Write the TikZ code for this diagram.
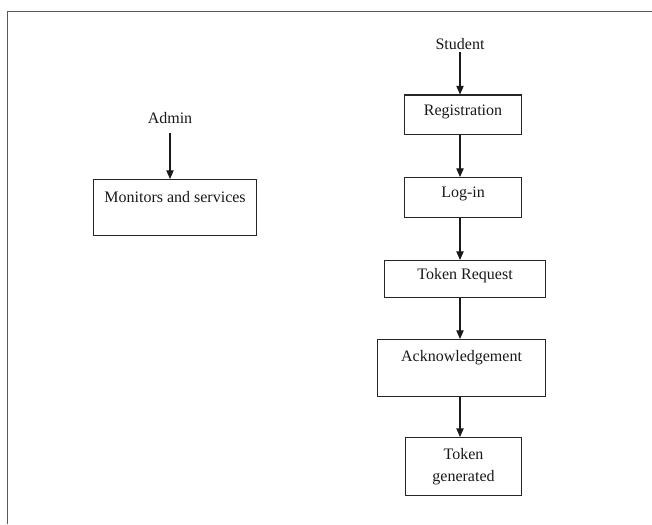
\documentclass[tikz,border=0pt]{standalone}
\usepackage{fontspec}
\setmainfont{Liberation Serif}
\usetikzlibrary{arrows.meta}
\begin{document}
\begin{tikzpicture}[x=0.75pt,y=-0.75pt,
  every node/.style={font=\fontsize{12}{16.8}\selectfont, text=black!90},
  box/.style={draw=black!85, line width=0.8pt, inner xsep=0pt, inner ysep=0pt, anchor=north west, align=center},
  lbl/.style={anchor=base, inner sep=0pt},
  flow/.style={draw=black!90, line width=0.8pt, -{Triangle[length=6.5pt,width=5.5pt]}}
]
\useasboundingbox (0,0) rectangle (652,524);
\draw[black!65, line width=1pt] (7.5,524) -- (7.5,11.5) -- (652,11.5);

% Admin branch
\node[lbl] (adm) at (170,123.3) {Admin};
\node[box, minimum width=122.25pt, text height=17.25pt, text depth=24.75pt] (mon) at (93,179) {Monitors and services};

% Student branch
\node[lbl] (stu) at (460,50) {Student};
\node[box, minimum width=87.75pt, text height=15.5pt, text depth=14.25pt] (reg) at (404,94.5) {Registration};
\node[box, minimum width=87.75pt, text height=15.2pt, text depth=14.5pt] (log) at (404,177) {Log-in};
\node[box, minimum width=120.75pt, text height=14.5pt, text depth=13.3pt] (req) at (384,260) {Token Request};
\node[box, minimum width=126pt, text height=16.5pt, text depth=26.25pt] (ack) at (377,339) {Acknowledgement};
\node[box, minimum width=87pt, minimum height=43.5pt] (gen) at (405,437) {Token\\generated};

\draw[flow, shorten <=7pt] (adm.south) -- (mon.north -| adm.south);
\draw[flow, shorten <=1.5pt] (stu.south) -- (reg.north -| stu.south);
\draw[flow] (reg.south -| stu) -- (log.north -| stu);
\draw[flow] (log.south -| stu) -- (req.north -| stu);
\draw[flow] (req.south -| stu) -- (ack.north -| stu);
\draw[flow] (ack.south -| stu) -- (gen.north -| stu);
\end{tikzpicture}
\end{document}
